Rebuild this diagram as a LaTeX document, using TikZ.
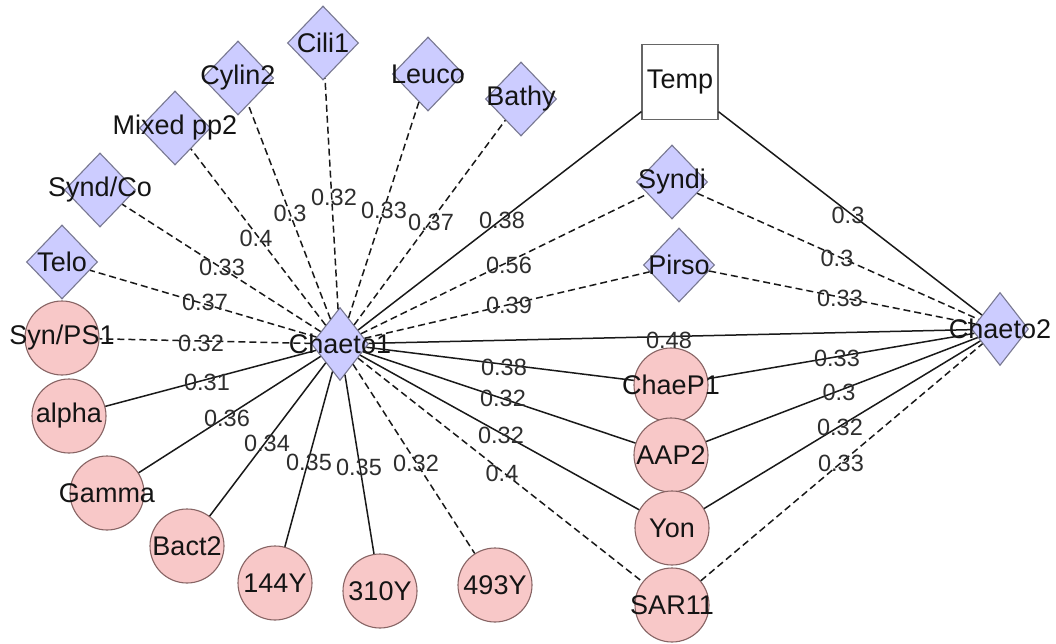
\documentclass[tikz,border=0pt]{standalone}
\usepackage{fontspec}
\setmainfont{Liberation Sans}
\usetikzlibrary{shapes.geometric}
\definecolor{diaF}{RGB}{204,204,255}
\definecolor{diaB}{RGB}{120,120,145}
\definecolor{cirF}{RGB}{248,200,200}
\definecolor{cirB}{RGB}{135,100,100}
\definecolor{edgeC}{RGB}{25,25,25}
\newcommand\nodefnt{\fontsize{27}{30}\selectfont}
\newcommand\edgefnt{\fontsize{23.5}{26}\selectfont}
\tikzset{
  dia/.style={diamond, draw=diaB, line width=1.1pt, fill=diaF, minimum width=71pt, minimum height=74pt, inner sep=0pt},
  diasmall/.style={dia, minimum width=57pt, minimum height=73pt},
  circ/.style={circle, draw=cirB, line width=1.1pt, fill=cirF, minimum size=74pt, inner sep=0pt},
  sqbox/.style={rectangle, draw=black!60, line width=1.1pt, fill=white, minimum width=76pt, minimum height=75pt, inner sep=0pt},
  nl/.style={font=\nodefnt, text=black!92, inner sep=0pt},
  el/.style={font=\edgefnt, text=black!82, inner sep=0pt},
  sol/.style={draw=edgeC, line width=1.5pt},
  dsh/.style={draw=edgeC, line width=1.5pt, dash pattern=on 7pt off 4pt},
}
\begin{document}
\begin{tikzpicture}[x=1pt,y=-1pt]
\path[use as bounding box, fill=white] (0,0) rectangle (1056,644);

% hubs
\node[diasmall, label={[nl]center:Chaeto1}] (c1) at (340,344) {};
\node[diasmall, label={[nl]center:Chaeto2}] (c2) at (1000,329) {};
% diamonds
\node[dia, label={[nl]center:Telo}] (telo) at (62,262) {};
\node[dia, label={[nl]center:Synd/Co}] (syndco) at (100,190) {};
\node[dia, label={[nl]center:Mixed pp2}] (mixed) at (175,128) {};
\node[dia, label={[nl]center:Cylin2}] (cylin) at (238,78) {};
\node[dia, label={[nl]center:Cili1}] (cili) at (323,43) {};
\node[dia, label={[nl]center:Leuco}] (leuco) at (428,74) {};
\node[dia, label={[nl]center:Bathy}] (bathy) at (521,99) {};
\node[dia, label={[nl]center:Syndi}] (syndi) at (672,182) {};
\node[dia, label={[nl]center:Pirso}] (pirso) at (679,265) {};
% box
\node[sqbox, label={[nl]center:Temp}] (temp) at (680,82) {};
% circles
\node[circ, label={[nl]center:Syn/PS1}] (synps) at (62,338) {};
\node[circ, label={[nl]center:alpha}] (alpha) at (69,416) {};
\node[circ, label={[nl]center:Gamma}] (gamma) at (107,493) {};
\node[circ, label={[nl]center:Bact2}] (bact) at (187,546) {};
\node[circ, label={[nl]center:144Y}] (y144) at (275,583) {};
\node[circ, label={[nl]center:310Y}] (y310) at (380,591) {};
\node[circ, label={[nl]center:493Y}] (y493) at (495,585) {};
\node[circ, label={[nl]center:ChaeP1}] (chaep) at (671,385) {};
\node[circ, label={[nl]center:AAP2}] (aap) at (671,455) {};
\node[circ, label={[nl]center:Yon}] (yon) at (672,528) {};
\node[circ, label={[nl]center:SAR11}] (sar) at (672,605) {};

% edges from Chaeto1
\draw[dsh] (c1) -- (telo);
\draw[dsh] (c1) -- (syndco);
\draw[dsh] (c1) -- (mixed);
\draw[dsh] (c1) -- (cylin);
\draw[dsh] (c1) -- (cili);
\draw[dsh] (c1) -- (leuco);
\draw[dsh] (c1) -- (bathy);
\draw[sol] (c1) -- (temp);
\draw[dsh] (c1) -- (syndi);
\draw[dsh] (c1) -- (pirso);
\draw[dsh] (c1) -- (synps);
\draw[sol] (c1) -- (alpha);
\draw[sol] (c1) -- (gamma);
\draw[sol] (c1) -- (bact);
\draw[sol] (c1) -- (y144);
\draw[sol] (c1) -- (y310);
\draw[dsh] (c1) -- (y493);
\draw[sol] (c1) -- (c2);
\draw[sol] (c1) -- (chaep);
\draw[sol] (c1) -- (aap);
\draw[sol] (c1) -- (yon);
\draw[dsh] (c1) -- (sar);
% edges to Chaeto2
\draw[sol] (temp) -- (c2);
\draw[dsh] (syndi) -- (c2);
\draw[dsh] (pirso) -- (c2);
\draw[sol] (chaep) -- (c2);
\draw[sol] (aap) -- (c2);
\draw[sol] (yon) -- (c2);
\draw[dsh] (sar) -- (c2);

% edge labels
\node[el] (lTelo) at (205,302) {0.37};
\node[el] (lSyndco) at (222,267) {0.33};
\node[el] (lMixed) at (256,238) {0.4};
\node[el] (lCylin) at (290,213) {0.3};
\node[el] (lCili) at (334,197) {0.32};
\node[el] (lLeuco) at (384,210) {0.33};
\node[el] (lBathy) at (431,222) {0.37};
\node[el] (lTemp) at (502,220) {0.38};
\node[el] (lSyndi) at (509,265) {0.56};
\node[el] (lPirso) at (509,305) {0.39};
\node[el] (lSynps) at (201,343) {0.32};
\node[el] (lAlpha) at (207,382) {0.31};
\node[el] (lGamma) at (227,418) {0.36};
\node[el] (lBact) at (267,443) {0.34};
\node[el] (l144) at (309,462) {0.35};
\node[el] (l310) at (359,467) {0.35};
\node[el] (l493) at (416,463) {0.32};
\node[el] (lSar) at (502,473) {0.4};
\node[el] (lYon) at (501,435) {0.32};
\node[el] (lAap) at (503,398) {0.32};
\node[el] (lChaep) at (504,367) {0.38};
\node[el] (lC12) at (669,340) {0.48};
\node[el] (rTemp) at (848,215) {0.3};
\node[el] (rSyndi) at (837,258) {0.3};
\node[el] (rPirso) at (840,298) {0.33};
\node[el] (rChaep) at (837,358) {0.33};
\node[el] (rAap) at (839,392) {0.3};
\node[el] (rYon) at (840,427) {0.32};
\node[el] (rSar) at (841,463) {0.33};
\end{tikzpicture}
\end{document}
